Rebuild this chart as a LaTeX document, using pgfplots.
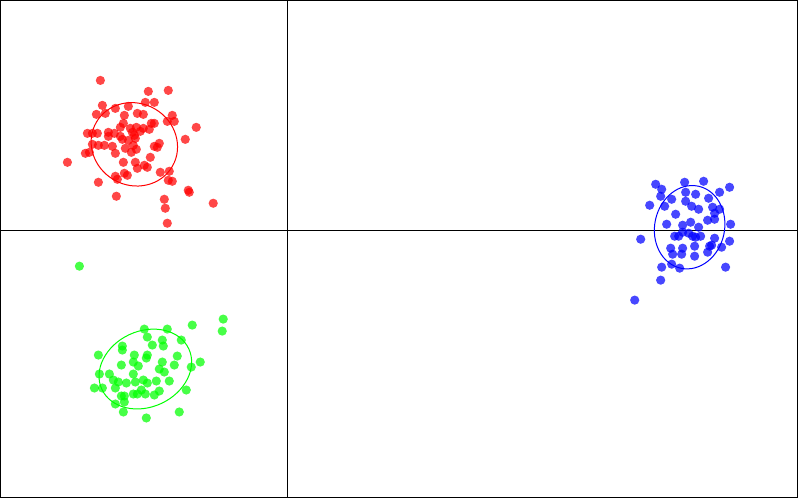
\documentclass[border=0pt]{standalone}
\usepackage{pgfplots}
\pgfplotsset{compat=1.18}
\definecolor{cred}{RGB}{255,0,0}
\definecolor{cgreen}{RGB}{0,255,0}
\definecolor{cblue}{RGB}{0,0,255}

% point positions, image-pixel coordinates (y grows downward)
\pgfplotstableread{
x y
100 80
148 91
168 90
145 102
154 102
102 105
115 108
128 106
96 114
105 113
137 113
143 114
124 115
172 115
167 121
174 121
123 123
151 123
154 123
196 127
120 127
130 128
136 127
143 128
149 129
140 131
132 132
87 133
92 133
97 133
108 132
114 133
134 135
120 136
185 139
108 136
122 139
128 140
135 138
92 144
98 145
104 145
112 146
133 145
154 146
159 143
157 147
125 148
136 149
89 152
85 153
115 153
131 152
150 157
67 162
123 162
135 162
144 165
137 168
147 167
160 172
169 171
124 173
127 175
115 176
117 179
168 180
172 181
98 182
116 196
188 190
189 192
164 199
165 208
213 203
167 223
}\redpts

\pgfplotstableread{
x y
79 266
223 319
222 331
192 325
144 329
167 329
147 337
162 340
181 340
122 346
152 345
163 346
122 350
98 355
134 355
147 355
146 358
177 356
133 362
162 362
200 362
121 365
138 366
174 365
191 367
159 369
164 372
99 374
109 374
133 374
113 380
118 382
126 383
135 382
143 380
147 383
156 381
169 381
94 388
102 388
115 388
141 390
159 391
186 390
121 396
124 396
133 394
137 394
145 394
154 395
124 402
115 404
123 412
179 412
146 418
}\greenpts

\pgfplotstableread{
x y
656 184
662 189
685 182
704 181
730 187
661 196
686 192
696 194
720 192
709 198
672 199
686 201
650 205
665 206
692 206
699 209
713 207
720 209
715 213
676 214
708 220
715 219
691 222
731 224
667 224
683 225
699 227
683 232
689 233
675 236
679 236
693 236
701 236
696 237
641 239
715 238
730 241
671 248
683 248
695 246
710 246
712 245
722 247
673 254
682 254
708 252
695 256
672 264
680 268
662 267
726 267
661 280
635 300
}\bluepts

\begin{document}
\begin{tikzpicture}
\begin{axis}[
    width=399pt, height=249pt, scale only axis,
    xmin=0, xmax=798, ymin=0, ymax=498, y dir=reverse,
    ticks=none, axis line style={black, line width=0.5pt},
    clip=true]
  % centre cross
  \addplot[black, line width=0.5pt] coordinates {(0,230) (798,230)};
  \addplot[black, line width=0.5pt] coordinates {(287,0) (287,498)};

  \addplot[only marks, mark=*, mark size=2.3pt, color=cred,
      mark options={fill=cred, fill opacity=0.72, draw opacity=0}] table {\redpts};
  \addplot[only marks, mark=*, mark size=2.3pt, color=cgreen,
      mark options={fill=cgreen, fill opacity=0.72, draw opacity=0}] table {\greenpts};
  \addplot[only marks, mark=*, mark size=2.3pt, color=cblue,
      mark options={fill=cblue, fill opacity=0.72, draw opacity=0}] table {\bluepts};

  % confidence ellipses
  \draw[cred, line width=0.5pt, rotate around={-30:(axis cs:134,144)}]
      (axis cs:134,144) ellipse [x radius=44, y radius=41];
  \draw[cgreen, line width=0.5pt, rotate around={25:(axis cs:145,369)}]
      (axis cs:145,369) ellipse [x radius=48, y radius=38];
  \draw[cblue, line width=0.5pt, rotate around={-12:(axis cs:690,227)}]
      (axis cs:690,227) ellipse [x radius=35, y radius=42];
\end{axis}
\end{tikzpicture}
\end{document}
